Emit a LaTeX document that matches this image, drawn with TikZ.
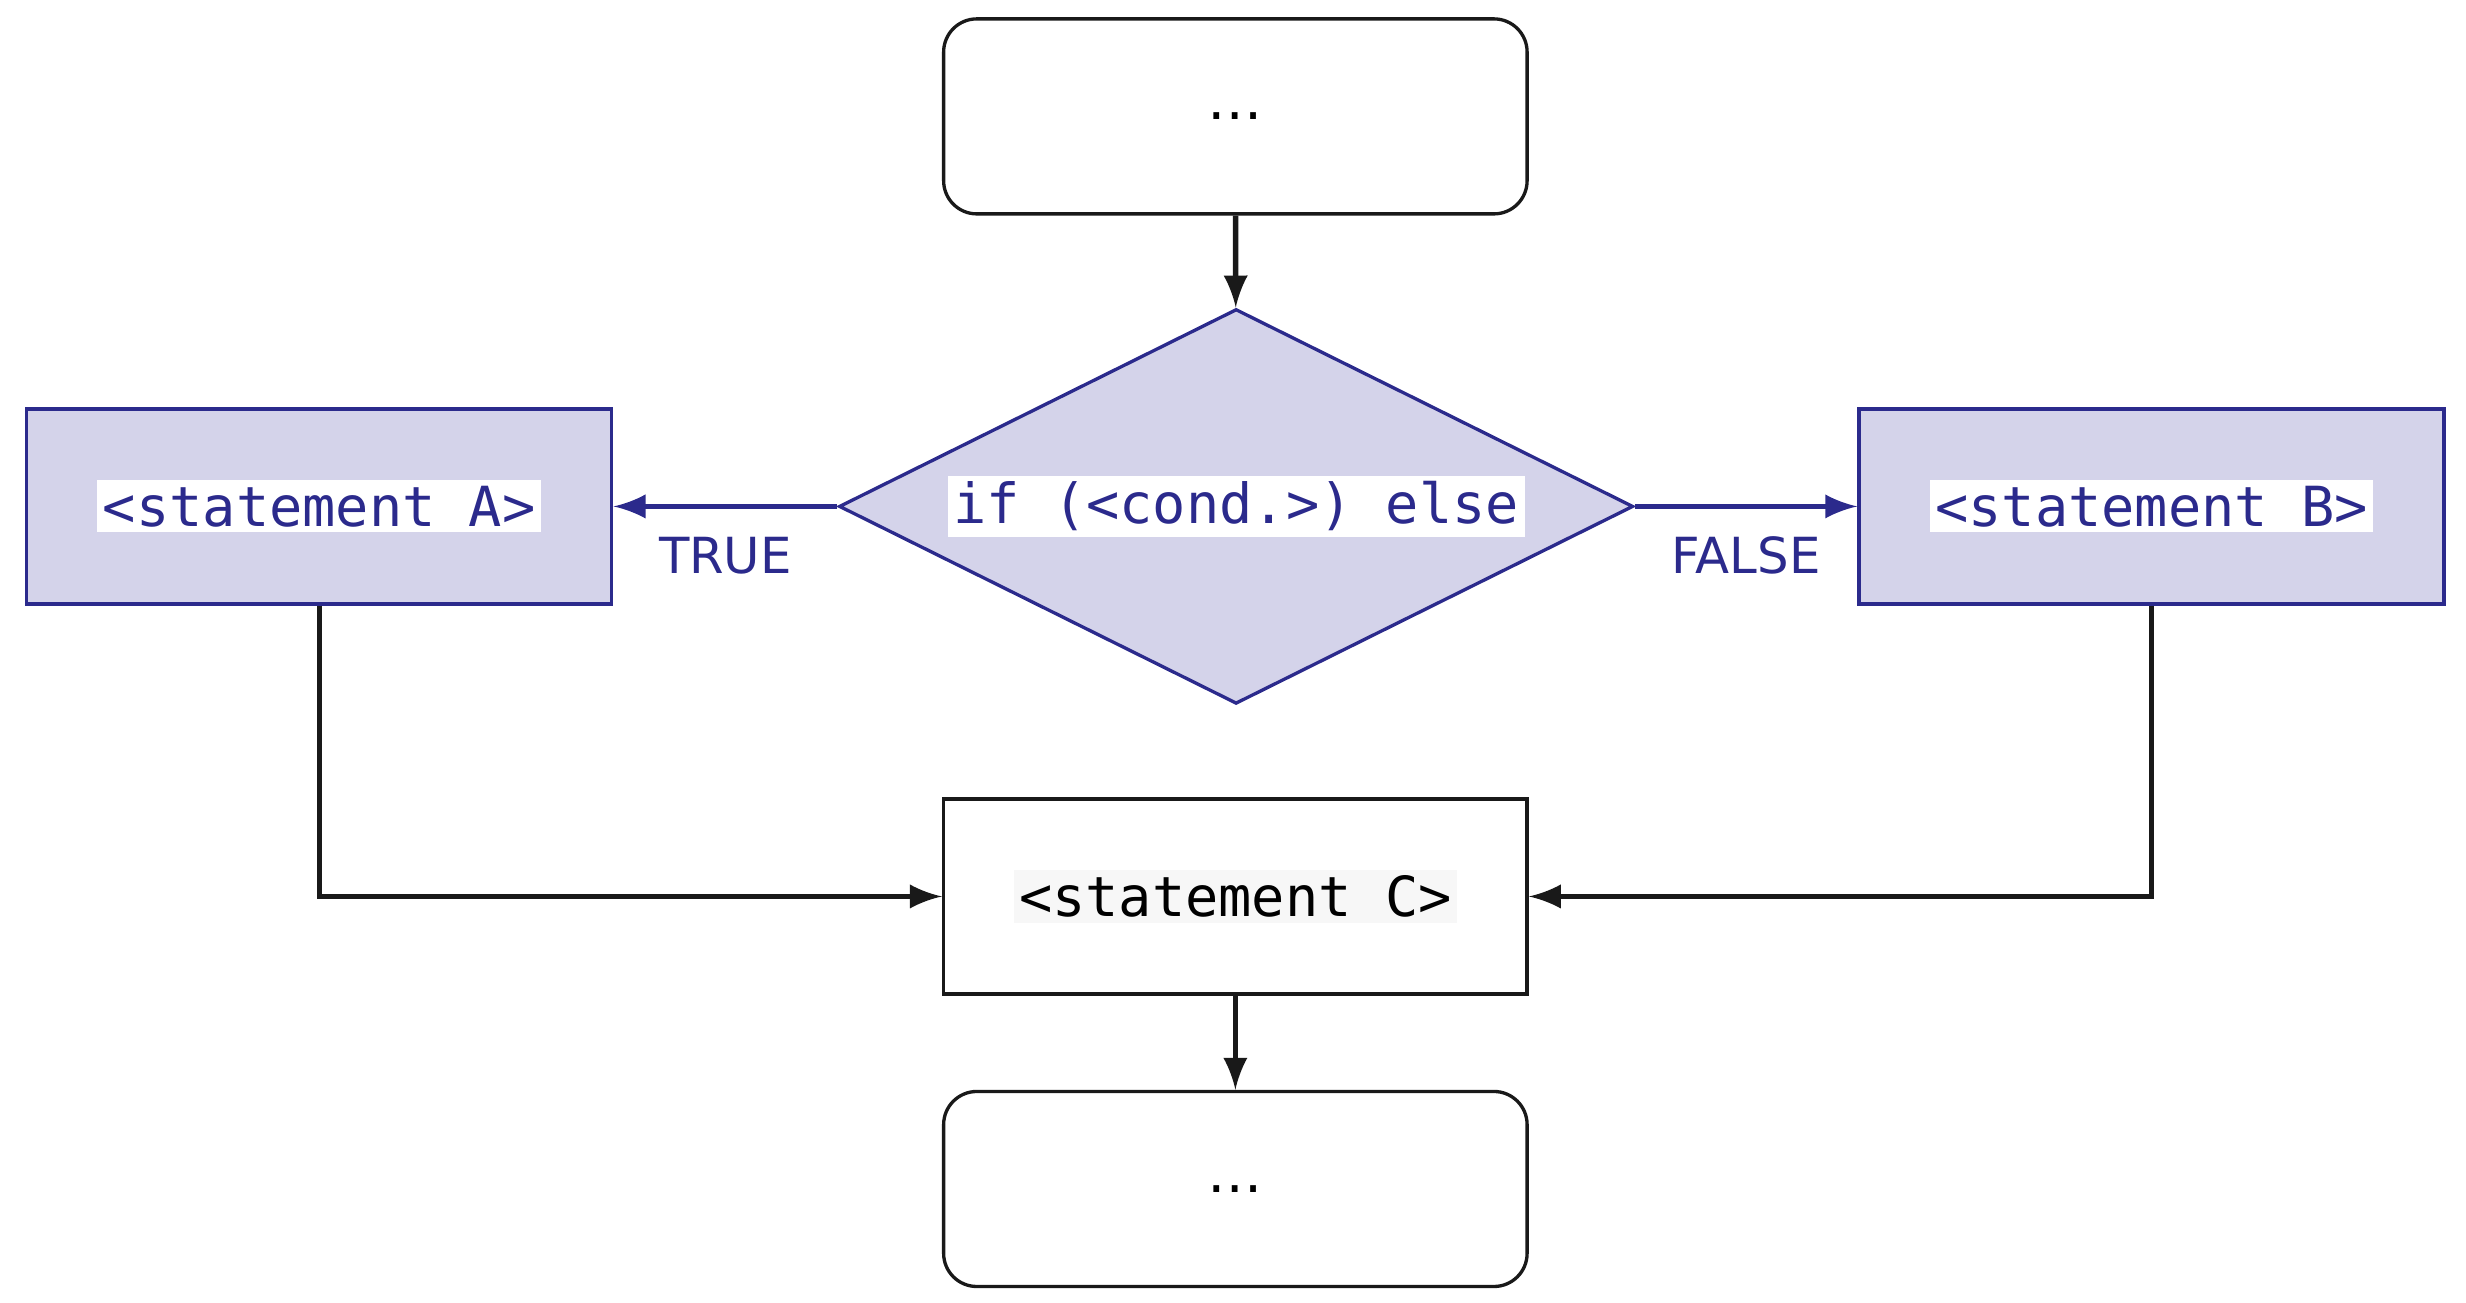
\documentclass[tikz,border=0pt]{standalone}
\usepackage{fontspec}
\setmainfont{DejaVu Sans}
\setmonofont{DejaVu Sans Mono}
\usetikzlibrary{arrows,shapes.geometric}
\definecolor{navy}{HTML}{2B2A8C}
\definecolor{lav}{HTML}{D4D3EA}
\begin{document}
\begin{tikzpicture}[->,>=latex,line width=1pt,
  plain box/.style={draw=black!90,line width=0.6pt,minimum width=3.71cm,minimum height=1.24cm,font=\ttfamily\fontsize{10}{12}\selectfont},
  round box/.style={plain box,rounded corners=6pt},
  cond box/.style={draw=navy,fill=lav,line width=0.6pt,minimum width=3.72cm,minimum height=1.24cm,font=\ttfamily\fontsize{10}{12}\selectfont,text=navy},
  lbl/.style={fill=white,inner sep=1pt},
  tag/.style={font=\fontsize{9}{11}\selectfont,text=navy,fill=white,inner sep=1pt}]
  \useasboundingbox (0,0) rectangle (15.68,-8.28);

  \node[round box,font=\fontsize{10}{12}\selectfont] (top) at (7.855,-0.74) {…};
  \node[draw=navy,fill=lav,line width=0.6pt,diamond,minimum width=5.05cm,minimum height=2.51cm,inner sep=0pt,aspect=2] (cond) at (7.86,-3.22) {};
  \node[lbl,text=navy,font=\ttfamily\fontsize{10}{12}\selectfont] (condtext) at (cond) {if (<cond.>) else};
  \node[cond box] (a) at (2.03,-3.22) {};
  \node[lbl,text=navy,font=\ttfamily\fontsize{10}{12}\selectfont] at (a) {<statement A>};
  \node[cond box] (b) at (13.68,-3.22) {};
  \node[lbl,text=navy,font=\ttfamily\fontsize{10}{12}\selectfont] at (b) {<statement B>};
  \node[plain box] (c) at (7.855,-5.70) {};
  \node[lbl,fill=black!3,font=\ttfamily\fontsize{10}{12}\selectfont] at (c) {<statement C>};
  \node[round box,font=\fontsize{10}{12}\selectfont] (bot) at (7.855,-7.56) {…};

  \draw[black!90] (top) -- (cond);
  \draw[navy] (cond.west) -- node[tag,below=4pt,pos=0.5] {TRUE} (a.east);
  \draw[navy] (cond.east) -- node[tag,below=4pt,pos=0.5] {FALSE} (b.west);
  \draw[black!90] (a.south) |- (c.west);
  \draw[black!90] (b.south) |- (c.east);
  \draw[black!90] (c) -- (bot);
\end{tikzpicture}
\end{document}
